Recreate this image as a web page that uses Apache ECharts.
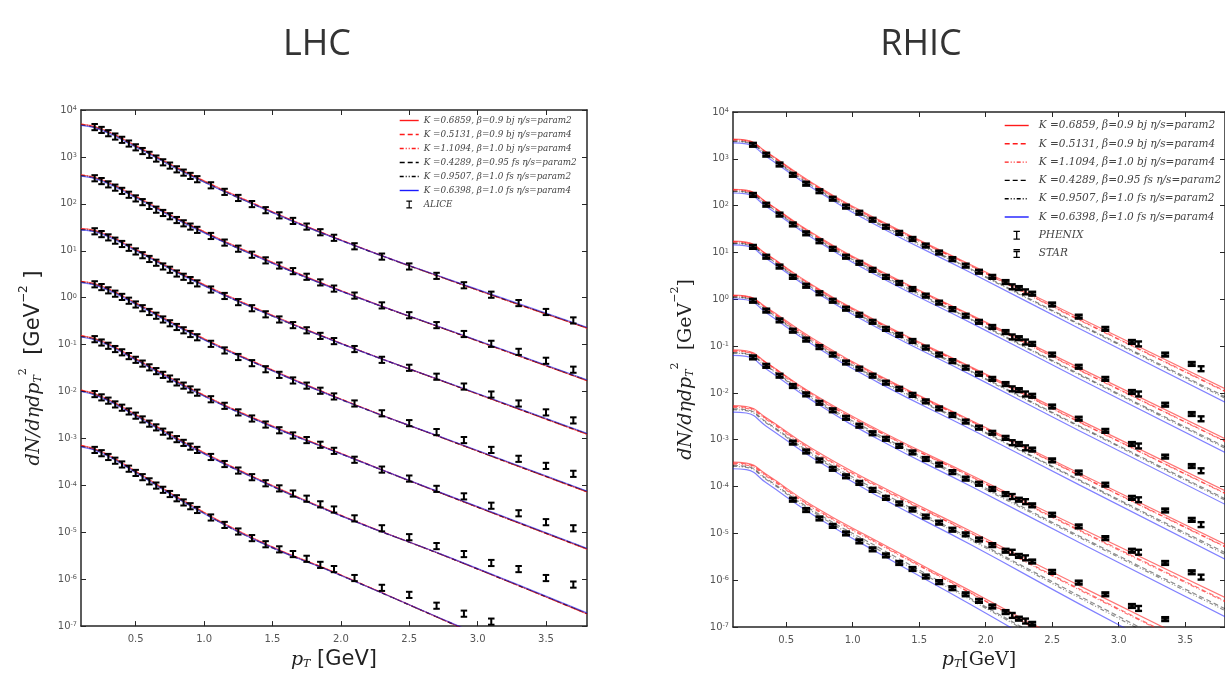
<!DOCTYPE html>
<html>
<head>
<meta charset="utf-8">
<script src="https://cdn.jsdelivr.net/npm/echarts@6/dist/echarts.min.js"></script>
<style>
html,body{margin:0;padding:0;background:#fff;}
#chart{width:1225px;height:675px;}
</style>
</head>
<body>
<div id="chart"></div>
<script>
// ---------- axis ticks ----------
const ptTicks = [0.5, 1.0, 1.5, 2.0, 2.5, 3.0, 3.5];
const decadeTicks = [1e-7, 1e-6, 1e-5, 1e-4, 1e-3, 1e-2, 1e-1, 1, 1e1, 1e2, 1e3, 1e4];

// ---------- model legend labels ----------
const modelNames = [
  'K =0.6859, β=0.9 bj η/s=param2',
  'K =0.5131, β=0.9 bj η/s=param4',
  'K =1.1094, β=1.0 bj η/s=param4',
  'K =0.4289, β=0.95 fs η/s=param2',
  'K =0.9507, β=1.0 fs η/s=param2',
  'K =0.6398, β=1.0 fs η/s=param4'
];

// ---------- LHC: ALICE pion spectra, 7 centrality classes (scaled) ----------
const alicePt = [0.2,0.25,0.3,0.35,0.4,0.45,0.5,0.55,0.6,0.65,0.7,0.75,0.8,0.85,0.9,0.95,
  1.05,1.15,1.25,1.35,1.45,1.55,1.65,1.75,1.85,1.95,2.1,2.3,2.5,2.7,2.9,3.1,3.3,3.5,3.7];
const aliceYield = [
  [4370,3800,3240,2750,2340,1950,1620,1350,1120,933,776,661,550,468,398,339,251,182,135,100,74.1,57.5,43.7,33.1,25.1,19.1,12.6,7.59,4.68,2.95,1.86,1.17,0.776,0.501,0.331],
  [355,309,263,224,191,158,132,110,91.2,75.9,64.6,55.0,45.7,38.9,33.1,28.2,20.9,15.1,11.2,8.32,6.31,4.90,3.72,2.82,2.14,1.58,1.12,0.692,0.427,0.263,0.170,0.105,0.0708,0.0457,0.0295],
  [26.3,22.9,19.5,16.6,14.1,11.7,9.77,8.13,6.76,5.62,4.68,3.98,3.31,2.82,2.40,2.04,1.51,1.10,0.813,0.603,0.447,0.347,0.263,0.204,0.155,0.120,0.0813,0.0479,0.0324,0.0209,0.0129,0.00871,0.00562,0.00363,0.00245],
  [1.95,1.70,1.45,1.23,1.05,0.871,0.724,0.603,0.501,0.417,0.347,0.288,0.240,0.204,0.170,0.145,0.105,0.0759,0.0550,0.0407,0.0302,0.0229,0.0174,0.0135,0.0105,0.00794,0.00562,0.00347,0.00214,0.00138,9.33e-4,5.75e-4,3.72e-4,2.63e-4,1.78e-4],
  [0.132,0.112,0.0955,0.0813,0.0692,0.0575,0.0479,0.0398,0.0331,0.0275,0.0229,0.0191,0.0158,0.0135,0.0112,0.00955,0.00692,0.00501,0.00363,0.00269,0.00200,0.00151,0.00117,9.33e-4,7.41e-4,5.50e-4,3.55e-4,2.19e-4,1.41e-4,8.51e-5,5.89e-5,3.72e-5,2.57e-5,1.66e-5,1.23e-5],
  [8.91e-3,7.59e-3,6.46e-3,5.37e-3,4.57e-3,3.80e-3,3.09e-3,2.57e-3,2.09e-3,1.74e-3,1.41e-3,1.17e-3,9.77e-4,8.13e-4,6.76e-4,5.75e-4,4.07e-4,2.88e-4,2.09e-4,1.51e-4,1.12e-4,8.71e-5,6.76e-5,5.25e-5,3.98e-5,3.09e-5,2.00e-5,1.23e-5,7.94e-6,5.13e-6,3.47e-6,2.24e-6,1.66e-6,1.07e-6,7.76e-7],
  [5.75e-4,4.90e-4,4.07e-4,3.39e-4,2.82e-4,2.29e-4,1.86e-4,1.51e-4,1.23e-4,1.00e-4,8.13e-5,6.61e-5,5.37e-5,4.37e-5,3.63e-5,3.02e-5,2.09e-5,1.45e-5,1.05e-5,7.59e-6,5.62e-6,4.37e-6,3.47e-6,2.75e-6,2.04e-6,1.66e-6,1.07e-6,6.61e-7,4.68e-7,2.75e-7,1.86e-7,1.26e-7,null,null,null]
];
const aliceRelErr = 0.15;

// ---------- LHC: hydro model curves (one row per centrality class) ----------
const lhcCurvePt = [0.1, 0.25, 0.5, 0.9, 1.4, 2.0, 2.8, 3.8];
const lhcK06859 = [
  [5010,3980,1740,427,91.2,17.0,2.34,0.224],
  [417,331,145,35.5,7.59,1.41,0.195,0.0170],
  [29.5,24.5,10.7,2.63,0.562,0.107,0.0145,0.00123],
  [2.24,1.78,0.776,0.186,0.0389,0.00692,8.91e-4,7.24e-5],
  [0.155,0.120,0.0501,0.0117,0.00245,4.79e-4,5.75e-5,4.37e-6],
  [0.0107,0.00794,0.00324,7.08e-4,1.35e-4,2.29e-5,2.82e-6,1.82e-7],
  [7.08e-4,5.25e-4,2.00e-4,3.89e-5,6.61e-6,1.23e-6,1.17e-7,6.17e-9]
];
const lhcK05131 = [
  [4900,3890,1700,417,89.1,17.0,2.34,0.224],
  [407,324,141,34.7,7.41,1.41,0.195,0.0170],
  [28.8,24.0,10.5,2.57,0.550,0.107,0.0145,0.00123],
  [2.19,1.74,0.759,0.182,0.0380,0.00692,8.91e-4,7.24e-5],
  [0.151,0.117,0.0490,0.0115,0.00240,4.79e-4,5.75e-5,4.37e-6],
  [0.0105,0.00776,0.00316,6.92e-4,1.32e-4,2.29e-5,2.82e-6,1.82e-7],
  [6.92e-4,5.13e-4,1.95e-4,3.80e-5,6.46e-6,1.23e-6,1.17e-7,6.17e-9]
];
const lhcK11094 = [
  [5010,3980,1740,427,91.2,17.0,2.34,0.224],
  [417,331,145,35.5,7.59,1.41,0.195,0.0170],
  [29.5,24.5,10.7,2.63,0.562,0.107,0.0145,0.00123],
  [2.24,1.78,0.776,0.186,0.0389,0.00692,8.91e-4,7.24e-5],
  [0.155,0.120,0.0501,0.0117,0.00245,4.79e-4,5.75e-5,4.37e-6],
  [0.0107,0.00794,0.00324,7.08e-4,1.35e-4,2.29e-5,2.82e-6,1.82e-7],
  [7.08e-4,5.25e-4,2.00e-4,3.89e-5,6.61e-6,1.23e-6,1.17e-7,6.17e-9]
];
const lhcK04289 = [
  [4790,3800,1660,407,87.1,16.6,2.34,0.229],
  [398,316,138,33.9,7.24,1.38,0.195,0.0174],
  [28.2,23.4,10.2,2.51,0.537,0.105,0.0145,0.00126],
  [2.14,1.70,0.741,0.178,0.0372,0.00676,8.91e-4,7.41e-5],
  [0.148,0.115,0.0479,0.0112,0.00234,4.68e-4,5.75e-5,4.47e-6],
  [0.0102,0.00759,0.00309,6.76e-4,1.29e-4,2.24e-5,2.82e-6,1.86e-7],
  [6.76e-4,5.01e-4,1.91e-4,3.72e-5,6.31e-6,1.20e-6,1.17e-7,6.31e-9]
];
const lhcK09507 = [
  [4790,3800,1660,407,87.1,16.6,2.34,0.229],
  [398,316,138,33.9,7.24,1.38,0.195,0.0174],
  [28.2,23.4,10.2,2.51,0.537,0.105,0.0145,0.00126],
  [2.14,1.70,0.741,0.178,0.0372,0.00676,8.91e-4,7.41e-5],
  [0.148,0.115,0.0479,0.0112,0.00234,4.68e-4,5.75e-5,4.47e-6],
  [0.0102,0.00759,0.00309,6.76e-4,1.29e-4,2.24e-5,2.82e-6,1.86e-7],
  [6.76e-4,5.01e-4,1.91e-4,3.72e-5,6.31e-6,1.20e-6,1.17e-7,6.31e-9]
];
const lhcK06398 = [
  [4680,3720,1620,398,87.1,16.6,2.40,0.234],
  [389,309,135,33.1,7.24,1.38,0.200,0.0178],
  [27.5,22.9,10.0,2.45,0.537,0.105,0.0148,0.00129],
  [2.09,1.66,0.724,0.174,0.0372,0.00676,9.12e-4,7.59e-5],
  [0.145,0.112,0.0468,0.0110,0.00234,4.68e-4,5.89e-5,4.57e-6],
  [0.0100,0.00741,0.00302,6.61e-4,1.29e-4,2.24e-5,2.88e-6,1.91e-7],
  [6.61e-4,4.90e-4,1.86e-4,3.63e-5,6.31e-6,1.20e-6,1.20e-7,6.46e-9]
];

// ---------- RHIC: PHENIX and STAR pion spectra (scaled) ----------
const phenixPt = [0.25,0.35,0.45,0.55,0.65,0.75,0.85,0.95,1.05,1.15,1.25,1.35,1.45,1.55,1.65,1.75,
  1.85,1.95,2.05,2.15,2.25,2.35,2.5,2.7,2.9,3.1,3.35,3.55];
const phenixYield = [
  [2000,1230,759,457,295,204,141,95.5,70.8,50.1,35.5,26.3,19.5,14.1,10.0,7.24,5.25,3.89,3.02,2.34,1.74,1.32,0.776,0.427,0.234,0.123,0.0661,0.0417],
  [170,105,64.6,39.8,25.7,17.4,12.0,8.13,6.03,4.27,3.02,2.24,1.66,1.20,0.851,0.617,0.447,0.331,0.257,0.200,0.148,0.112,0.0661,0.0363,0.0200,0.0105,0.00562,0.00355],
  [13.2,8.13,5.01,3.02,1.95,1.35,0.933,0.631,0.468,0.331,0.234,0.174,0.129,0.0933,0.0661,0.0479,0.0347,0.0257,0.0200,0.0155,0.0115,0.00871,0.00513,0.00282,0.00155,8.13e-4,4.37e-4,2.75e-4],
  [0.933,0.575,0.355,0.214,0.138,0.0955,0.0661,0.0447,0.0331,0.0234,0.0166,0.0123,0.00912,0.00661,0.00468,0.00339,0.00245,0.00182,0.00141,0.00110,8.13e-4,6.17e-4,3.63e-4,2.00e-4,1.10e-4,5.75e-5,3.09e-5,1.95e-5],
  [0.0575,0.0380,0.0234,0.0141,0.00933,0.00617,0.00427,0.00295,0.00200,0.00138,0.00105,7.41e-4,5.37e-4,3.89e-4,2.95e-4,2.04e-4,1.48e-4,1.15e-4,8.91e-5,6.92e-5,5.25e-5,3.98e-5,2.51e-5,1.41e-5,7.94e-6,4.27e-6,2.34e-6,1.48e-6],
  [null,null,null,8.71e-4,5.62e-4,3.63e-4,2.40e-4,1.66e-4,1.20e-4,8.51e-5,5.75e-5,4.37e-5,3.24e-5,2.29e-5,1.70e-5,1.20e-5,9.55e-6,7.41e-6,5.62e-6,4.27e-6,3.31e-6,2.51e-6,1.51e-6,8.91e-7,5.01e-7,2.82e-7,1.48e-7,null],
  [null,null,null,5.25e-5,3.16e-5,2.09e-5,1.45e-5,1.00e-5,6.76e-6,4.57e-6,3.39e-6,2.34e-6,1.74e-6,1.20e-6,9.12e-7,6.76e-7,5.01e-7,3.63e-7,2.75e-7,2.09e-7,1.51e-7,1.17e-7,null,null,null,null,null,null]
];
const phenixRelErr = 0.08;
const starPt = [2.2, 2.3, 3.15, 3.62];
const starYield = [
  [1.86,1.45,0.112,0.0331],
  [0.158,0.123,0.00955,0.00282],
  [0.0123,0.00955,7.41e-4,2.19e-4],
  [8.71e-4,6.76e-4,5.25e-5,1.55e-5],
  [6.17e-5,4.79e-5,3.98e-6,1.17e-6],
  [3.98e-6,3.02e-6,2.51e-7,null],
  [1.78e-7,1.35e-7,null,null]
];
const starRelErr = 0.12;

// ---------- RHIC: hydro model curves ----------
const rhicCurvePt = [0.1, 0.2, 0.35, 0.7, 1.2, 1.9, 2.7, 3.8];
const rhicK06859 = [
  [2630,2510,1410,302,49.0,5.25,0.407,0.0123],
  [224,214,120,25.7,4.17,0.447,0.0347,0.00105],
  [17.4,16.6,9.33,2.00,0.324,0.0347,0.00269,8.13e-5],
  [1.23,1.17,0.676,0.145,0.0234,0.00251,1.95e-4,5.89e-6],
  [0.0832,0.0794,0.0447,0.00955,0.00158,1.70e-4,1.35e-5,4.27e-7],
  [0.00537,0.00513,0.00295,6.31e-4,1.05e-4,1.07e-5,7.76e-7,2.19e-8],
  [3.31e-4,3.16e-4,1.82e-4,3.89e-5,6.46e-6,5.62e-7,3.47e-8,7.76e-10]
];
const rhicK05131 = [
  [2570,2450,1380,288,46.8,5.01,0.372,0.0110],
  [219,209,117,24.5,3.98,0.427,0.0316,9.33e-4],
  [17.0,16.2,9.12,1.91,0.309,0.0331,0.00245,7.24e-5],
  [1.20,1.15,0.646,0.135,0.0224,0.00240,1.78e-4,5.25e-6],
  [0.0794,0.0759,0.0437,0.00912,0.00148,1.58e-4,1.20e-5,3.63e-7],
  [0.00513,0.00490,0.00282,5.89e-4,9.77e-5,9.77e-6,6.61e-7,1.78e-8],
  [3.16e-4,3.02e-4,1.74e-4,3.63e-5,6.03e-6,5.13e-7,2.95e-8,6.31e-10]
];
const rhicK11094 = [
  [2510,2400,1350,282,45.7,4.90,0.363,0.0107],
  [214,204,115,24.0,3.89,0.417,0.0309,9.12e-4],
  [16.6,15.8,8.91,1.86,0.302,0.0324,0.00240,7.08e-5],
  [1.17,1.12,0.631,0.132,0.0214,0.00234,1.74e-4,5.13e-6],
  [0.0776,0.0741,0.0417,0.00871,0.00145,1.55e-4,1.15e-5,3.47e-7],
  [0.00490,0.00468,0.00269,5.62e-4,9.33e-5,9.55e-6,6.31e-7,1.74e-8],
  [3.02e-4,2.88e-4,1.66e-4,3.47e-5,5.75e-6,5.01e-7,2.82e-8,6.17e-10]
];
const rhicK04289 = [
  [2400,2290,1260,263,41.7,4.27,0.302,0.00832],
  [204,195,107,22.4,3.55,0.363,0.0257,7.08e-4],
  [15.8,15.1,8.32,1.74,0.275,0.0282,0.00200,5.50e-5],
  [1.12,1.07,0.589,0.123,0.0195,0.00200,1.41e-4,3.89e-6],
  [0.0724,0.0692,0.0380,0.00794,0.00126,1.29e-4,8.91e-6,2.45e-7],
  [0.00457,0.00437,0.00240,5.01e-4,7.94e-5,7.41e-6,4.68e-7,1.12e-8],
  [2.82e-4,2.69e-4,1.48e-4,3.09e-5,4.90e-6,3.89e-7,2.09e-8,3.98e-10]
];
const rhicK09507 = [
  [2340,2240,1230,251,38.9,4.07,0.288,0.00776],
  [200,191,105,21.4,3.31,0.347,0.0245,6.61e-4],
  [15.5,14.8,8.13,1.66,0.257,0.0269,0.00191,5.13e-5],
  [1.10,1.05,0.575,0.117,0.0182,0.00191,1.35e-4,3.55e-6],
  [0.0708,0.0676,0.0372,0.00741,0.00115,1.20e-4,8.32e-6,2.24e-7],
  [0.00437,0.00417,0.00229,4.68e-4,7.08e-5,6.92e-6,4.27e-7,1.00e-8],
  [2.69e-4,2.57e-4,1.41e-4,2.88e-5,4.37e-6,3.63e-7,1.91e-8,3.55e-10]
];
const rhicK06398 = [
  [2190,2090,1120,234,35.5,3.55,0.240,0.00631],
  [186,178,95.5,20.0,3.02,0.302,0.0204,5.37e-4],
  [14.5,13.8,7.41,1.55,0.234,0.0234,0.00158,4.17e-5],
  [1.02,0.977,0.513,0.107,0.0162,0.00162,1.10e-4,2.82e-6],
  [0.0631,0.0603,0.0324,0.00676,0.00100,9.77e-5,6.46e-6,1.66e-7],
  [0.00389,0.00372,0.00195,4.07e-4,6.03e-5,5.50e-6,3.16e-7,6.92e-9],
  [2.40e-4,2.29e-4,1.20e-4,2.51e-5,3.72e-6,2.88e-7,1.41e-8,2.45e-10]
];

// ---------- styling ----------
const modelLineStyles = [
  { color: '#ff1a1a', type: 'solid', opacity: 0.6 },
  { color: '#ff1a1a', type: [5, 3], opacity: 0.6 },
  { color: '#ff1a1a', type: [4, 2, 1, 2, 1, 2], opacity: 0.6 },
  { color: '#000000', type: [5, 3], opacity: 0.45 },
  { color: '#000000', type: [4, 2, 1, 2, 1, 2], opacity: 0.45 },
  { color: '#1a1aff', type: 'solid', opacity: 0.55 }
];
const ibeamIcon = 'path://M0,0H10V2H6V12H10V14H0V12H4V2H0Z';
const starIcon = 'path://M0,0H10V2H0Z M0,3H10V5H6V12H10V14H0V12H4V5H0Z';

const chart = echarts.init(document.getElementById('chart'));

function supLabel(v) {
  const e = Math.round(Math.log10(v));
  return '10{s|' + e + '}';
}

function xAxisFor(gridIndex, top, nameRich, name) {
  const ax = {
    type: 'value', gridIndex, min: 0.1, max: 3.8,
    position: top ? 'top' : 'bottom',
    axisLine: { show: true, onZero: false, lineStyle: { color: '#262626', width: 1.5 } },
    axisTick: { show: true, inside: true, length: 5, customValues: ptTicks, lineStyle: { color: '#262626', width: 1 } },
    axisLabel: { show: !top, customValues: ptTicks, formatter: v => v.toFixed(1),
      fontFamily: 'DejaVu Sans', fontSize: 10, color: '#555', margin: 8 },
    splitLine: { show: false }
  };
  if (!top) {
    ax.name = name; ax.nameLocation = 'middle'; ax.nameGap = 17;
    ax.nameTextStyle = { rich: nameRich, color: '#222' };
  }
  return ax;
}

function yAxisFor(gridIndex, right, nameRich, name) {
  const ax = {
    type: 'log', logBase: 10, gridIndex, min: 1e-7, max: 1e4,
    position: right ? 'right' : 'left',
    axisLine: { show: true, onZero: false, lineStyle: { color: '#262626', width: 1.5 } },
    axisTick: { show: true, inside: true, length: 5, customValues: decadeTicks, lineStyle: { color: '#262626', width: 1 } },
    minorTick: { show: false },
    axisLabel: { show: !right, customValues: decadeTicks, formatter: supLabel,
      fontFamily: 'DejaVu Sans', fontSize: 10, color: '#555', margin: 4,
      rich: { s: { fontSize: 6.5, verticalAlign: 'top', lineHeight: 7, color: '#555', fontFamily: 'DejaVu Sans' } } },
    splitLine: { show: false }
  };
  if (!right) {
    ax.name = name; ax.nameLocation = 'middle'; ax.nameGap = 37;
    ax.nameTextStyle = { rich: nameRich, color: '#222' };
  }
  return ax;
}

const mathRich = {
  m: { fontFamily: 'DejaVu Serif', fontStyle: 'italic', fontSize: 19, color: '#222', lineHeight: 26, verticalAlign: 'bottom' },
  sub: { fontFamily: 'DejaVu Serif', fontStyle: 'italic', fontSize: 11, color: '#222', verticalAlign: 'bottom', lineHeight: 11 },
  sup: { fontFamily: 'DejaVu Serif', fontSize: 11, color: '#222', verticalAlign: 'top', lineHeight: 11 },
  n: { fontFamily: 'DejaVu Sans', fontSize: 21, color: '#222', lineHeight: 26, verticalAlign: 'bottom' },
  r: { fontFamily: 'DejaVu Serif', fontSize: 19, color: '#222', lineHeight: 26, verticalAlign: 'bottom' },
  nsup: { fontFamily: 'DejaVu Sans', fontSize: 12, color: '#222', verticalAlign: 'top', lineHeight: 12 }
};

const series = [];

function addCurves(curves, ptArr, axisIdx) {
  curves.forEach((rows, m) => {
    rows.forEach(row => {
      series.push({
        type: 'line', name: modelNames[m], xAxisIndex: axisIdx, yAxisIndex: axisIdx,
        data: ptArr.map((x, i) => [x, row[i]]),
        showSymbol: false, symbol: 'none', smooth: 0.5,
        lineStyle: Object.assign({ width: 1.2 }, modelLineStyles[m]),
        itemStyle: { color: modelLineStyles[m].color },
        clip: true, z: 2, silent: true
      });
    });
  });
}

function errorRenderer(relErr, capW, lw) {
  return function (params, api) {
    const x = api.value(0), y = api.value(1);
    if (!(y > 0)) return null;
    const lo = api.coord([x, y * (1 - relErr)]);
    const hi = api.coord([x, y * (1 + relErr)]);
    const h = capW / 2;
    const st = { stroke: '#000', lineWidth: lw };
    return {
      type: 'group',
      children: [
        { type: 'line', shape: { x1: lo[0], y1: lo[1], x2: hi[0], y2: hi[1] }, style: st },
        { type: 'line', shape: { x1: lo[0] - h, y1: lo[1], x2: lo[0] + h, y2: lo[1] }, style: st },
        { type: 'line', shape: { x1: hi[0] - h, y1: hi[1], x2: hi[0] + h, y2: hi[1] }, style: st }
      ]
    };
  };
}

function addPoints(name, ptArr, rows, axisIdx, relErr, capW, lw) {
  rows.forEach(row => {
    series.push({
      type: 'custom', name, xAxisIndex: axisIdx, yAxisIndex: axisIdx,
      data: ptArr.map((x, i) => [x, row[i]]).filter(d => d[1] != null),
      renderItem: errorRenderer(relErr, capW, lw),
      itemStyle: { color: '#000' }, clip: true, z: 5, silent: true
    });
  });
}

addCurves([lhcK06859, lhcK05131, lhcK11094, lhcK04289, lhcK09507, lhcK06398], lhcCurvePt, 0);
addPoints('ALICE', alicePt, aliceYield, 0, aliceRelErr, 6.5, 2.0);

addCurves([rhicK06859, rhicK05131, rhicK11094, rhicK04289, rhicK09507, rhicK06398], rhicCurvePt, 2);
addPoints('PHENIX', phenixPt, phenixYield, 2, phenixRelErr, 8, 3.0);
addPoints('STAR', starPt, starYield, 2, starRelErr, 7, 2.4);

const lhcYName = '{m|dN/dηdp}{sub|T}{sup|2}{n|  [GeV}{nsup|−2}{n| ]}';
const rhicYName = '{m|dN/dηdp}{sub|T}{sup|2}{r|  [GeV}{sup|−2}{r|]}';
const lhcXName = '{m|p}{sub|T}{n| [GeV]}';
const rhicXName = '{m|p}{sub|T}{r|[GeV]}';

const legendText = (size) => ({ fontFamily: 'DejaVu Serif', fontStyle: 'italic', fontSize: size, color: '#444' });
const markerItem = (name, icon) => ({ name, icon, itemStyle: { opacity: 1, color: '#000' } });

const option = {
  animation: false,
  backgroundColor: '#fff',
  graphic: [
    { type: 'text', x: 317, y: 45, style: { text: 'LHC', font: '36px "Open Sans", "DejaVu Sans", sans-serif', fill: '#333', textAlign: 'center', textVerticalAlign: 'middle', align: 'center', verticalAlign: 'middle' } },
    { type: 'text', x: 921, y: 45, style: { text: 'RHIC', font: '36px "Open Sans", "DejaVu Sans", sans-serif', fill: '#333', textAlign: 'center', textVerticalAlign: 'middle', align: 'center', verticalAlign: 'middle' } }
  ],
  grid: [
    { left: 81, top: 110, width: 506, height: 521, containLabel: false },
    { left: 733, top: 112, width: 507, height: 519, containLabel: false }
  ],
  xAxis: [
    xAxisFor(0, false, mathRich, lhcXName),
    xAxisFor(0, true),
    xAxisFor(1, false, mathRich, rhicXName),
    xAxisFor(1, true)
  ],
  yAxis: [
    yAxisFor(0, false, mathRich, lhcYName),
    yAxisFor(0, true),
    yAxisFor(1, false, mathRich, rhicYName),
    yAxisFor(1, true)
  ],
  legend: [
    {
      orient: 'vertical', left: 394, top: 111, itemWidth: 19, itemHeight: 8, itemGap: 5,
      textStyle: Object.assign(legendText(8.8), { lineHeight: 9 }),
      lineStyle: { opacity: 1, width: 1.4 },
      itemStyle: { opacity: 0 },
      selectedMode: false,
      data: modelNames.map(n => ({ name: n })).concat([markerItem('ALICE', ibeamIcon)])
    },
    {
      orient: 'vertical', left: 999, top: 115, itemWidth: 24, itemHeight: 9, itemGap: 7.3,
      textStyle: Object.assign(legendText(10.5), { lineHeight: 10, padding: [0, 0, 0, 5] }),
      lineStyle: { opacity: 1, width: 1.4 },
      itemStyle: { opacity: 0 },
      selectedMode: false,
      data: modelNames.map(n => ({ name: n })).concat([markerItem('PHENIX', ibeamIcon), markerItem('STAR', starIcon)])
    }
  ],
  series
};

chart.setOption(option);
</script>
</body>
</html>
